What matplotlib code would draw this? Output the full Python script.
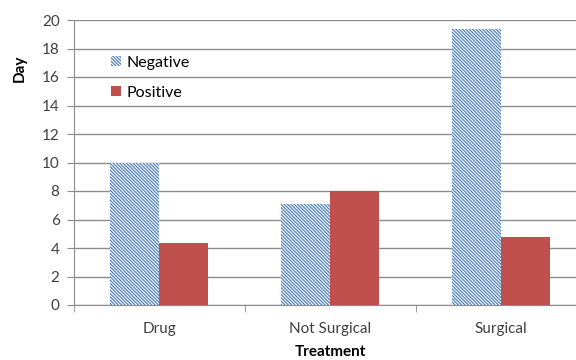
import matplotlib.pyplot as plt
import numpy as np

plt.rcParams['font.family'] = ['Lato', 'DejaVu Sans']
plt.rcParams['hatch.linewidth'] = 0.9

# средняя длительность (в днях) по типам лечения
treatments = ['Drug', 'Not Surgical', 'Surgical']
negative = [10.0, 7.1, 19.4]
positive = [4.35, 8.0, 4.8]

fig = plt.figure(figsize=(5.76, 3.6), dpi=100)
ax = fig.add_axes([73.5 / 576, 55 / 360, 513 / 576, 285 / 360])

x = np.arange(len(treatments))
w = 0.286
ax.bar(x - w / 2, negative, w, color='white', edgecolor='#4F81BD',
       hatch='\\' * 10, linewidth=0, label='Negative', zorder=3)
ax.bar(x + w / 2, positive, w, color='#C0504D', linewidth=0,
       label='Positive', zorder=3)

ax.set_xlim(-0.5, 2.5)
ax.set_ylim(0, 20)
ax.set_yticks(np.arange(0, 21, 2))
ax.yaxis.grid(True, color='#8c8c8c', linewidth=1.0, zorder=0)

# метки категорий по центру, засечки на границах
ax.set_xticks(x)
ax.set_xticklabels(treatments)
ax.set_xticks(np.arange(-0.5, 3, 1), minor=True)
ax.tick_params(axis='x', which='major', length=0, pad=12, labelsize=11,
               colors='#404040')
ax.tick_params(axis='x', which='minor', length=5, color='#8c8c8c')
ax.tick_params(axis='y', length=5, color='#8c8c8c', labelsize=11,
               labelcolor='#404040', pad=5)

for s in ['top', 'right']:
    ax.spines[s].set_visible(False)
for s in ['left', 'bottom']:
    ax.spines[s].set_color('#8c8c8c')

fig.text(20 / 576, 1 - 68 / 360, 'Day', rotation=90, fontweight='bold',
         fontsize=11, ha='center', va='center')
fig.text(330 / 576, 1 - 352 / 360, 'Treatment', fontweight='bold',
         fontsize=11, ha='center', va='center')

ax.legend(loc='upper left', bbox_to_anchor=(0.045, 0.925), frameon=False,
          fontsize=11.5, handlelength=0.6, handleheight=0.6,
          labelspacing=1.0, handletextpad=0.4)

fig.savefig('out.png', dpi=100)
